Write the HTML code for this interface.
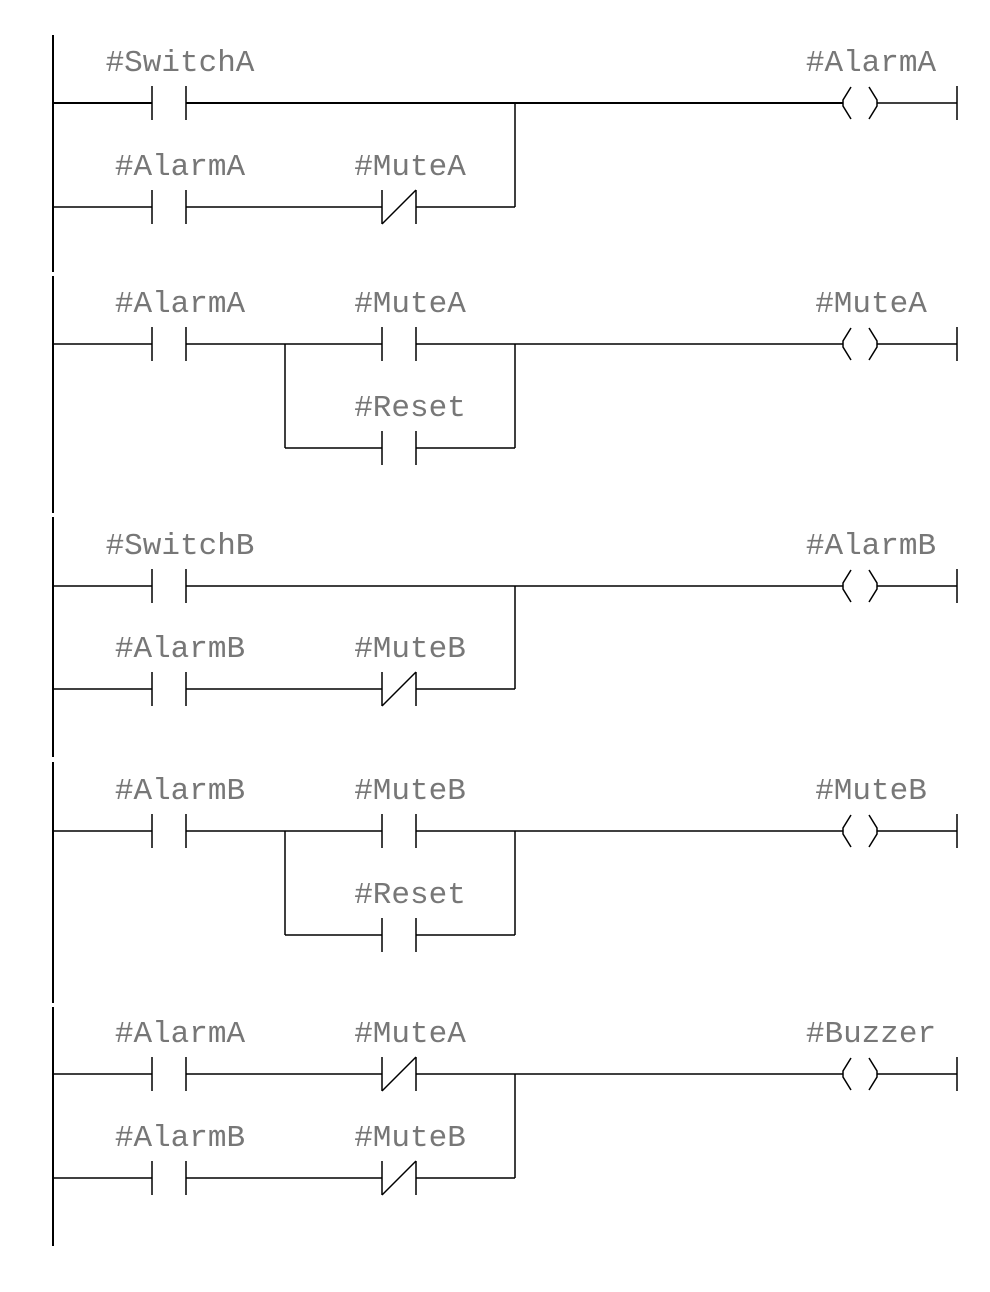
<!DOCTYPE html>
<html><head><meta charset="utf-8"><style>
html,body{margin:0;padding:0;background:#fff;}
svg{display:block;}
text{font-family:"Liberation Mono",monospace;font-size:31px;fill:#777;text-anchor:middle;}
line,polyline{stroke:#000;stroke-width:1.5;fill:none;}
</style></head><body>
<svg width="990" height="1292" viewBox="0 0 990 1292" xmlns="http://www.w3.org/2000/svg">
<defs>
<g id="no"><line x1="152" y1="-17" x2="152" y2="17"/><line x1="186" y1="-17" x2="186" y2="17"/></g>
<g id="no2"><line x1="382" y1="-17" x2="382" y2="17"/><line x1="416" y1="-17" x2="416" y2="17"/></g>
<g id="nc2"><line x1="382" y1="-17" x2="382" y2="17"/><line x1="416" y1="-17" x2="416" y2="17"/><line x1="382" y1="17" x2="416" y2="-17"/></g>
<g id="coil"><polyline points="851,-16 843,-3 843,3 851,16"/><polyline points="869,-16 877,-3 877,3 869,16"/><line x1="877" y1="0" x2="957" y2="0"/><line x1="957" y1="-17" x2="957" y2="17"/></g>
</defs>
<line x1="53" y1="35" x2="53" y2="272" style="stroke-width:2"/>
<line x1="53" y1="276" x2="53" y2="513" style="stroke-width:2"/>
<line x1="53" y1="517" x2="53" y2="757" style="stroke-width:2"/>
<line x1="53" y1="762" x2="53" y2="1003" style="stroke-width:2"/>
<line x1="53" y1="1007" x2="53" y2="1246" style="stroke-width:2"/>

<g transform="translate(0,103)">
<line x1="53" y1="0" x2="152" y2="0" style="stroke-width:2"/><use href="#no"/>
<line x1="186" y1="0" x2="843" y2="0" style="stroke-width:2"/><use href="#coil"/>
<line x1="53" y1="104" x2="152" y2="104"/>
<g transform="translate(0,104)"><use href="#no"/><use href="#nc2"/></g>
<line x1="186" y1="104" x2="382" y2="104"/><line x1="416" y1="104" x2="515" y2="104"/>
<line x1="515" y1="0" x2="515" y2="104"/>
<text x="180" y="-32">#SwitchA</text><text x="871" y="-32">#AlarmA</text>
<text x="180" y="72">#AlarmA</text><text x="410" y="72">#MuteA</text>
</g>

<g transform="translate(0,344)">
<line x1="53" y1="0" x2="152" y2="0"/><use href="#no"/>
<line x1="186" y1="0" x2="382" y2="0"/><use href="#no2"/>
<line x1="416" y1="0" x2="843" y2="0"/><use href="#coil"/>
<line x1="285" y1="0" x2="285" y2="104"/><line x1="285" y1="104" x2="382" y2="104"/>
<g transform="translate(0,104)"><use href="#no2"/></g>
<line x1="416" y1="104" x2="515" y2="104"/><line x1="515" y1="0" x2="515" y2="104"/>
<text x="180" y="-32">#AlarmA</text><text x="410" y="-32">#MuteA</text><text x="871" y="-32">#MuteA</text>
<text x="410" y="72">#Reset</text>
</g>

<g transform="translate(0,586)">
<line x1="53" y1="0" x2="152" y2="0"/><use href="#no"/>
<line x1="186" y1="0" x2="843" y2="0"/><use href="#coil"/>
<line x1="53" y1="103" x2="152" y2="103"/>
<g transform="translate(0,103)"><use href="#no"/><use href="#nc2"/></g>
<line x1="186" y1="103" x2="382" y2="103"/><line x1="416" y1="103" x2="515" y2="103"/>
<line x1="515" y1="0" x2="515" y2="103"/>
<text x="180" y="-32">#SwitchB</text><text x="871" y="-32">#AlarmB</text>
<text x="180" y="71">#AlarmB</text><text x="410" y="71">#MuteB</text>
</g>

<g transform="translate(0,831)">
<line x1="53" y1="0" x2="152" y2="0"/><use href="#no"/>
<line x1="186" y1="0" x2="382" y2="0"/><use href="#no2"/>
<line x1="416" y1="0" x2="843" y2="0"/><use href="#coil"/>
<line x1="285" y1="0" x2="285" y2="104"/><line x1="285" y1="104" x2="382" y2="104"/>
<g transform="translate(0,104)"><use href="#no2"/></g>
<line x1="416" y1="104" x2="515" y2="104"/><line x1="515" y1="0" x2="515" y2="104"/>
<text x="180" y="-32">#AlarmB</text><text x="410" y="-32">#MuteB</text><text x="871" y="-32">#MuteB</text>
<text x="410" y="72">#Reset</text>
</g>

<g transform="translate(0,1074)">
<line x1="53" y1="0" x2="152" y2="0"/><use href="#no"/><use href="#nc2"/>
<line x1="186" y1="0" x2="382" y2="0"/>
<line x1="416" y1="0" x2="843" y2="0"/><use href="#coil"/>
<line x1="53" y1="104" x2="152" y2="104"/>
<g transform="translate(0,104)"><use href="#no"/><use href="#nc2"/></g>
<line x1="186" y1="104" x2="382" y2="104"/><line x1="416" y1="104" x2="515" y2="104"/>
<line x1="515" y1="0" x2="515" y2="104"/>
<text x="180" y="-32">#AlarmA</text><text x="410" y="-32">#MuteA</text><text x="871" y="-32">#Buzzer</text>
<text x="180" y="72">#AlarmB</text><text x="410" y="72">#MuteB</text>
</g>
</svg>
</body></html>
